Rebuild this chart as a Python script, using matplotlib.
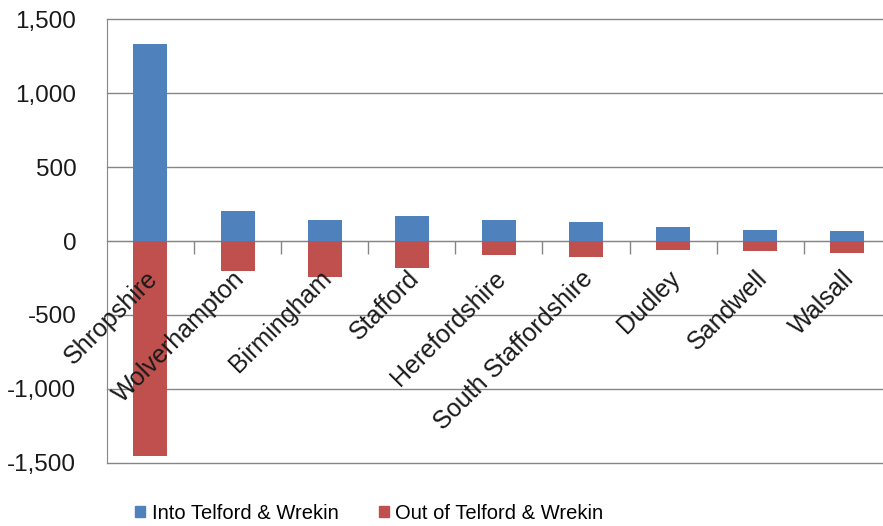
import numpy as np
import matplotlib.pyplot as plt
from matplotlib.patches import Patch

# data
places = ["Shropshire", "Wolverhampton", "Birmingham", "Stafford", "Herefordshire",
          "South Staffordshire", "Dudley", "Sandwell", "Walsall"]
into_tw = [1330, 200, 140, 170, 140, 130, 95, 75, 70]
out_of_tw = [-1455, -205, -245, -185, -95, -105, -60, -70, -80]

blue = "#4F81BD"
red = "#C0504D"
grey = "#868686"

plt.rcParams['font.family'] = ['Liberation Sans', 'DejaVu Sans']

fig = plt.figure(figsize=(8.83, 5.26), dpi=100)
ax = fig.add_axes([0.121, 0.1203, 0.888, 0.843])

x = np.arange(len(places))
ax.bar(x, into_tw, width=0.39, color=blue, zorder=3)
ax.bar(x, out_of_tw, width=0.39, color=red, zorder=3)

ax.set_xlim(-0.5, len(places) - 0.5)
ax.set_ylim(-1500, 1500)
ax.set_yticks(np.arange(-1500, 1501, 500))
ax.yaxis.set_major_formatter(plt.FuncFormatter(lambda v, p: f"{int(v):,}"))
ax.tick_params(axis='y', length=0, labelsize=17.5, pad=22, colors='#1a1a1a')
ax.grid(axis='y', color=grey, linewidth=1.0, zorder=0)
for gl in ax.get_ygridlines():
    gl.set_clip_on(False)

# category axis sits on the zero line
for s in ['top', 'right']:
    ax.spines[s].set_visible(False)
ax.spines['bottom'].set_position(('data', 0))
ax.spines['bottom'].set_color(grey)
ax.spines['left'].set_color(grey)
ax.set_xticks(x[:-1] + 0.5)
ax.set_xticklabels([])
ax.tick_params(axis='x', direction='out', length=9, color=grey, width=1)

for i, name in enumerate(places):
    ax.text(i - 0.06, -170, name, rotation=45, ha='right', va='top',
            rotation_mode='anchor', fontsize=18, color='#1a1a1a', zorder=4)

handles = [Patch(color=blue), Patch(color=red)]
fig.legend(handles, ["Into Telford & Wrekin", "Out of Telford & Wrekin"],
           loc='center', bbox_to_anchor=(0.418, 0.024), ncol=2, frameon=False,
           fontsize=14.5, handlelength=0.5, handleheight=0.5, handletextpad=0.3,
           columnspacing=2.0)

fig.savefig("out.png", dpi=100)
